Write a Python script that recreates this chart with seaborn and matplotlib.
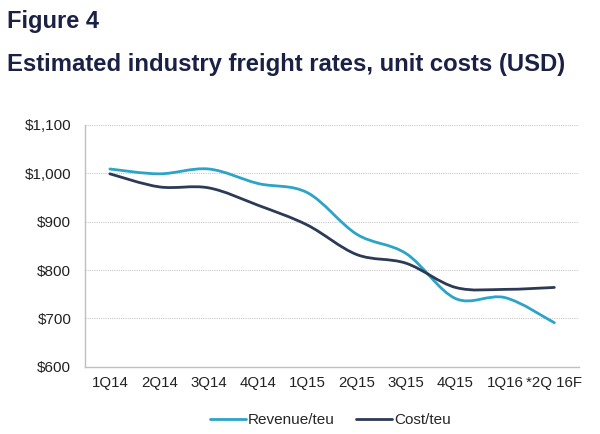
import matplotlib
matplotlib.use("Agg")
import matplotlib.pyplot as plt
from matplotlib.path import Path
from matplotlib.patches import PathPatch
import seaborn as sns
import pandas as pd
import numpy as np

quarters = ["1Q14", "2Q14", "3Q14", "4Q14", "1Q15", "2Q15", "3Q15", "4Q15", "1Q16", "*2Q 16F"]
revenue = [1009, 999, 1009, 979, 960, 874, 834, 741, 743, 691]
cost = [999, 972, 970, 934, 893, 832, 814, 764, 760, 764]
series_names = ["Revenue/teu", "Cost/teu"]
colors = ["#2ba4c8", "#2c3a55"]
yticks = [600, 700, 800, 900, 1000, 1100]

df = pd.DataFrame({
    "quarter": quarters * 2,
    "pos": list(range(len(quarters))) * 2,
    "value": revenue + cost,
    "series": [series_names[0]] * len(quarters) + [series_names[1]] * len(quarters),
})

sns.set_style("white")
plt.rcParams["font.family"] = ["Liberation Sans", "DejaVu Sans"]

fig = plt.figure(figsize=(6, 4.34), dpi=100)
ax = fig.add_axes([0.142, 0.155, 0.823, 0.557])

sns.lineplot(data=df, x="pos", y="value", hue="series", palette=colors,
             linewidth=2, ax=ax)


def smooth_path(xs, ys):
    # Catmull-Rom style bezier through the data points (like Excel "smoothed line")
    pts = np.column_stack([xs, ys]).astype(float)
    n = len(pts)
    verts = [pts[0]]
    codes = [Path.MOVETO]
    for i in range(n - 1):
        p0 = pts[i - 1] if i > 0 else pts[i]
        p1 = pts[i]
        p2 = pts[i + 1]
        p3 = pts[i + 2] if i + 2 < n else pts[i + 1]
        c1 = p1 + (p2 - p0) / 6.0
        c2 = p2 - (p3 - p1) / 6.0
        verts += [c1, c2, p2]
        codes += [Path.CURVE4] * 3
    return Path(verts, codes)


# swap the straight seaborn segments for smoothed curves
for line, col in zip(ax.lines[:2], colors):
    xd, yd = line.get_xdata(), line.get_ydata()
    line.set_visible(False)
    ax.add_patch(PathPatch(smooth_path(xd, yd), facecolor="none",
                           edgecolor=col, linewidth=2, capstyle="round"))

ax.set_xlim(-0.5, len(quarters) - 0.5)
ax.set_ylim(600, 1100)
ax.set_yticks(yticks)
ax.set_yticklabels([f"${v:,}" for v in yticks])
ax.set_xticks(range(len(quarters)))
ax.set_xticklabels(quarters)
ax.set_xticks(np.arange(-0.5, len(quarters), 1), minor=True)
ax.tick_params(axis="x", which="major", length=0, pad=7, labelsize=10.8, colors="#222222")
ax.tick_params(axis="x", which="minor", length=4, color="#bfbfbf", width=0.8)
ax.tick_params(axis="y", length=4, labelsize=11, colors="#222222", pad=6)
ax.tick_params(axis="y", color="#bfbfbf")
ax.set_xlabel("")
ax.set_ylabel("")

for v in yticks[1:]:
    ax.axhline(v, color="#c8c8c8", linewidth=0.8, linestyle=(0, (1, 1)), zorder=0)

for s in ["top", "right"]:
    ax.spines[s].set_visible(False)
for s in ["left", "bottom"]:
    ax.spines[s].set_color("#bfbfbf")
    ax.spines[s].set_linewidth(1)

sns.move_legend(ax, "center", bbox_to_anchor=(0.497, -0.22), ncol=2,
                frameon=False, title=None, fontsize=11, handlelength=2.35,
                columnspacing=1.4, handletextpad=0.15)

fig.text(0.012, 0.9355, "Figure 4", fontsize=17, fontweight="bold",
         color="#1b2145", va="baseline")
fig.text(0.012, 0.8364, "Estimated industry freight rates, unit costs (USD)",
         fontsize=17.2, fontweight="bold", color="#1b2145", va="baseline")

fig.savefig("out.png", dpi=100, facecolor="white")
